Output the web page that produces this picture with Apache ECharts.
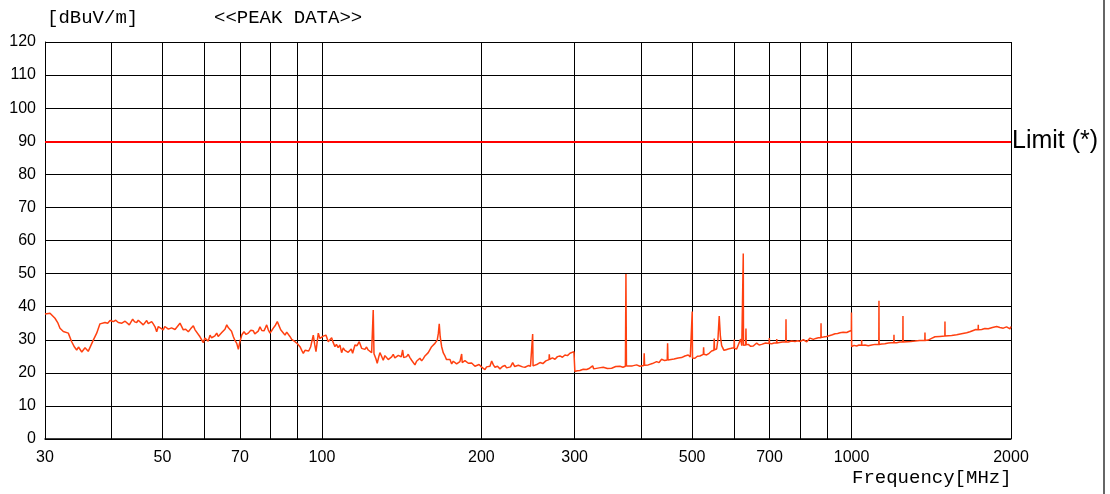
<!DOCTYPE html>
<html><head><meta charset="utf-8">
<script src="https://cdn.jsdelivr.net/npm/echarts@6/dist/echarts.min.js"></script>
<style>html,body{margin:0;padding:0;background:#fff}#c{width:1110px;height:494px}</style>
</head><body><div id="c"></div>
<script>
// ---- data ----
const freqMHz = [
30,30.66,31.33,31.7,32.02,32.49,33.2,33.69,34.1,34.43,34.7,34.93,35.2,35.43,35.7,35.96,36.2,36.48,37.01,37.56,
38.1,38.94,39.4,39.8,40.37,40.8,41.26,41.56,41.9,42.16,42.5,42.79,43.28,43.92,44.3,44.69,45.0,45.33,45.99,46.68,
47.0,47.35,47.7,48.03,48.4,48.75,49.1,49.45,50.17,50.5,50.92,51.3,51.66,52.0,52.41,52.8,53.18,53.95,54.35,54.73,
55.3,55.94,56.5,57.17,57.6,58.02,58.85,59.71,60.1,60.6,61.0,61.48,61.9,62.37,62.8,63.3,63.7,64.21,64.7,65.14,
65.6,66.11,66.6,67.07,67.5,68.04,68.5,69.05,69.53,70.0,70.6,71.26,71.9,72.6,73.4,74.2,74.7,75.3,75.8,76.39,
77.0,77.73,78.2,78.65,79.2,79.79,80.4,80.94,81.7,82.36,83.0,83.59,84.4,85.17,85.8,86.4,87.0,87.68,88.3,88.95,
89.9,90.9,91.6,92.22,92.9,93.59,94.4,95.23,95.8,96.31,96.9,97.45,97.9,98.43,99.13,99.87,100.57,101.31,101.75,102.78,
103.2,104.31,105.0,105.81,106.5,107.3,108.14,108.94,109.7,110.5,111.34,112.1,112.95,113.6,114.28,115.43,116.5,117.61,118.84,119.7,
120.56,121.4,122.3,123.2,124.12,124.6,124.98,125.4,125.91,126.5,127.17,128.0,128.68,129.6,130.54,131.5,132.48,133.4,134.4,135.4,
136.34,137.3,138.37,139.4,140.37,141.2,142.03,142.7,143.46,144.5,145.53,146.6,147.7,148.8,149.83,150.9,152.0,153.1,154.26,155.4,
156.49,157.6,158.76,159.9,161.12,162.3,163.44,164.3,165.09,165.9,166.53,167.2,168.28,169.5,170.71,171.9,173.18,174.5,175.76,177.0,
178.31,179.6,180.88,182.2,183.2,183.58,184.0,184.85,186.2,187.61,189.0,190.32,191.7,193.07,194.5,195.95,198.0,200.26,201.7,203.15,
204.6,206.09,207.6,209.17,210.7,212.18,214.5,216.85,219.2,221.61,223.2,224.82,227.0,229.16,231.2,233.18,234.9,236.55,239.2,241.76,
243.5,245.24,247.6,249.5,249.97,250.4,252.47,255.2,258.03,261.3,264.69,266.6,268.4,268.69,269.2,272.4,275.43,278.4,281.46,284.5,
287.66,290.8,293.99,296.5,299.1,299.7,300.3,303.5,306.99,311.5,316.07,320.2,324.43,326.0,327.69,333.6,339.71,346.0,352.36,358.7,
365.32,370.2,374.1,374.96,375.8,378.72,385.6,392.77,398.4,405.3,405.96,406.6,413.09,420.6,428.45,433.0,437.86,443.6,448.7,449.43,
450.2,453.94,462.1,470.62,477.5,484.52,491.54,496.0,499.6,500.2,500.8,506.1,511.5,517.2,524.9,525.6,526.3,532.5,538.3,544.2,
549.7,550.4,551.1,556.2,559.3,562.5,565.4,568.5,574.2,579.6,585.0,592.5,599.9,600.5,601.1,606.8,612.0,617.5,620.5,623.9,
624.5,625.1,631.1,631.8,632.5,638.2,645.0,652.2,657.0,662.0,669.0,676.5,688.0,698.8,699.4,700.0,706.7,714.0,721.7,722.3,
722.9,727.3,740.0,751.4,752.0,752.6,759.6,770.0,782.1,791.0,800.0,810.9,823.0,834.8,846.9,856.0,865.5,875.1,875.7,876.3,
884.5,897.0,910.6,920.0,930.7,941.0,951.1,958.0,964.4,964.9,965.4,979.2,988.0,996.4,999.0,999.6,1000.4,1011.0,1022.4,1033.0,
1044.3,1044.9,1045.5,1060.0,1075.0,1091.4,1108.0,1125.8,1126.5,1127.2,1139.8,1156.0,1173.0,1188.0,1201.8,1202.5,1203.2,1216.7,1233.0,1249.7,
1250.4,1251.1,1270.7,1294.0,1317.4,1345.0,1375.2,1375.9,1376.6,1395.8,1416.0,1437.1,1468.0,1500.2,1500.9,1501.6,1512.1,1545.0,1579.3,1613.0,
1649.5,1673.0,1697.5,1716.0,1734.1,1734.8,1735.5,1760.6,1785.0,1811.9,1845.0,1879.3,1906.0,1934.0,1962.0,1991.1,2000
];
const levelDb = [
37.8,38.0,36.5,35.2,33.5,32.5,32.0,29.4,27.8,26.9,27.8,27.4,26.3,26.4,27.6,27.4,26.5,26.9,29.9,32.0,
34.8,35.2,35.0,35.8,35.5,35.9,35.2,35.8,35.0,34.8,35.6,35.8,34.5,36.2,35.4,35.2,35.9,35.8,34.5,35.8,
34.9,35.0,35.5,34.8,33.9,32.4,34.0,34.2,33.0,34.0,33.9,33.2,32.8,33.6,33.9,33.1,33.4,35.0,35.2,33.0,
33.2,32.4,33.3,34.2,33.0,32.4,30.9,29.1,30.5,30.1,29.6,31.4,30.6,30.1,31.2,32.0,31.0,31.2,32.2,32.7,
33.2,34.5,33.6,33.5,32.6,30.9,29.8,28.9,27.1,29.4,31.5,32.4,31.6,32.0,32.9,32.7,31.8,31.4,32.6,33.9,
32.8,32.7,33.6,34.5,33.0,32.0,32.8,33.5,34.4,35.5,34.2,33.0,32.2,31.4,32.3,32.0,31.0,30.1,30.6,29.4,
28.8,27.9,26.8,25.9,26.8,27.4,26.6,27.9,28.3,31.4,28.6,26.4,29.0,32.0,30.4,30.6,31.1,31.4,31.4,29.4,
28.9,30.6,29.2,27.9,28.6,27.6,28.4,26.1,27.5,26.8,27.4,26.2,26.4,27.2,25.9,28.4,28.2,29.4,27.4,28.0,
27.1,27.8,26.9,27.0,26.1,26.0,39.0,25.8,25.4,24.2,22.9,24.8,26.1,25.0,23.8,25.2,24.9,24.0,23.6,24.8,
25.6,24.5,24.1,25.3,25.9,24.8,26.9,24.6,24.1,24.9,25.6,24.6,23.8,23.2,22.4,23.5,24.1,24.4,23.6,24.3,
25.1,25.3,26.1,26.6,27.9,28.0,28.9,29.1,29.9,32.0,34.8,31.0,27.9,26.0,25.1,24.0,23.6,24.0,22.7,23.5,
23.3,22.7,22.6,23.4,22.9,25.7,23.1,23.1,23.7,23.6,22.9,22.6,23.0,22.4,22.0,21.9,22.5,21.7,21.3,21.0,
21.8,22.2,22.0,23.6,22.4,21.7,22.0,21.2,21.9,22.2,21.5,21.2,21.8,23.1,21.9,21.7,22.3,22.6,21.8,21.7,
22.3,22.2,22.0,22.3,31.7,22.1,22.2,22.6,23.1,22.8,23.6,23.3,24.0,25.6,24.1,24.5,24.1,24.9,25.1,24.7,
25.4,25.2,25.9,25.5,26.4,26.6,20.4,20.6,20.7,21.1,21.0,21.4,22.1,21.2,21.2,21.5,21.7,21.3,21.4,21.9,
22.0,21.7,22.0,49.9,22.1,22.2,22.1,22.4,22.0,22.2,25.9,22.3,22.4,22.8,23.4,23.1,24.1,23.7,23.9,28.9,
23.9,23.8,24.2,24.5,24.6,25.1,25.4,24.8,24.6,38.5,24.5,24.4,25.0,25.1,25.6,27.7,25.6,25.4,25.9,26.6,
26.8,30.4,27.0,27.2,30.0,37.2,31.0,28.2,26.8,27.0,27.2,27.4,27.6,30.1,27.4,27.2,27.6,30.2,28.2,28.3,
56.1,28.3,28.4,33.4,28.5,28.6,28.0,28.1,28.7,29.0,28.4,28.6,29.0,28.9,30.5,28.9,28.8,29.0,29.0,30.2,
29.0,29.0,29.3,29.3,36.2,29.3,29.3,29.6,29.5,29.7,29.5,30.0,29.4,30.5,30.1,30.4,30.6,30.6,35.0,30.7,
30.8,31.0,31.3,31.5,31.8,31.9,32.1,32.4,32.3,32.8,32.3,32.2,32.5,32.6,32.8,38.2,27.9,28.3,28.1,28.4,
28.3,29.9,28.3,28.4,28.2,28.4,28.6,28.6,41.8,28.6,28.7,28.8,29.0,29.1,29.1,31.5,29.1,29.1,29.3,29.3,
37.2,29.3,29.4,29.5,29.6,29.8,29.8,32.2,29.8,29.9,30.4,30.9,31.0,31.1,35.5,31.1,31.1,31.3,31.5,31.8,
32.1,32.4,32.8,33.1,33.0,34.5,33.0,33.1,33.4,33.3,33.7,34.0,33.7,33.5,33.9,33.3,34.0
];
const gridFreqs = [30,40,50,60,70,80,90,100,200,300,400,500,600,700,800,900,1000,2000];
const labelFreqs = [30,50,70,100,200,300,500,700,1000,2000];
const yMin = 0, yMax = 120, yStep = 10;
const limitLevel = 90;
const limitText = 'Limit (*)';
const yUnitText = '[dBuV/m]';
const titleText = '<<PEAK DATA>>';
const xNameText = 'Frequency[MHz]';

const traceData = freqMHz.map((f, i) => [f, levelDb[i]]);

const chart = echarts.init(document.getElementById('c'), null, {renderer: 'canvas'});
chart.setOption({
  animation: false,
  backgroundColor: '#fff',
  grid: {left: 45, right: 99, top: 42, bottom: 55, containLabel: false, outerBoundsMode: 'none'},
  xAxis: {
    type: 'log', logBase: 10, min: 30, max: 2000,
    axisLine: {show: true, lineStyle: {color: '#000', width: 1.5}},
    axisTick: {show: false, customValues: gridFreqs},
    splitLine: {show: true, lineStyle: {color: '#000', width: 1}},
    minorTick: {show: false}, minorSplitLine: {show: false},
    axisLabel: {customValues: labelFreqs, formatter: v => String(Math.round(v)),
      fontSize: 16, fontFamily: 'Liberation Sans', color: '#000', margin: 11}
  },
  yAxis: {
    type: 'value', min: yMin, max: yMax, interval: yStep,
    axisLine: {show: true, lineStyle: {color: '#000', width: 1}},
    axisTick: {show: false},
    splitLine: {show: true, lineStyle: {color: '#000', width: 1}},
    axisLabel: {fontSize: 16, fontFamily: 'Liberation Sans', color: '#000', margin: 9}
  },
  graphic: [
    {type: 'text', left: 47, top: 8, style: {text: yUnitText, font: '19px "Liberation Mono"', fill: '#000'}},
    {type: 'text', left: 214, top: 8, style: {text: titleText, font: '19px "Liberation Mono"', fill: '#000'}},
    {type: 'text', left: 852, top: 468, style: {text: xNameText, font: '19px "Liberation Mono"', fill: '#000'}},
    {type: 'line', shape: {x1: 1104, y1: 0, x2: 1104, y2: 494}, style: {stroke: '#333', lineWidth: 1.5}}
  ],
  series: [
    {
      type: 'line', data: traceData, showSymbol: false, symbol: 'none', sampling: null,
      lineStyle: {color: '#ff4010', width: 1.5}, emphasis: {disabled: true}, silent: true, z: 3
    },
    {
      type: 'line', data: [], silent: true, z: 4,
      markLine: {
        silent: true, symbol: ['none', 'none'], animation: false,
        lineStyle: {color: '#ff0000', width: 2, type: 'solid'},
        label: {show: true, position: 'end', formatter: limitText, fontSize: 25,
          fontFamily: 'Liberation Sans', color: '#000', distance: 1},
        emphasis: {disabled: true},
        data: [{yAxis: limitLevel}]
      }
    }
  ]
});
</script>
</body></html>
